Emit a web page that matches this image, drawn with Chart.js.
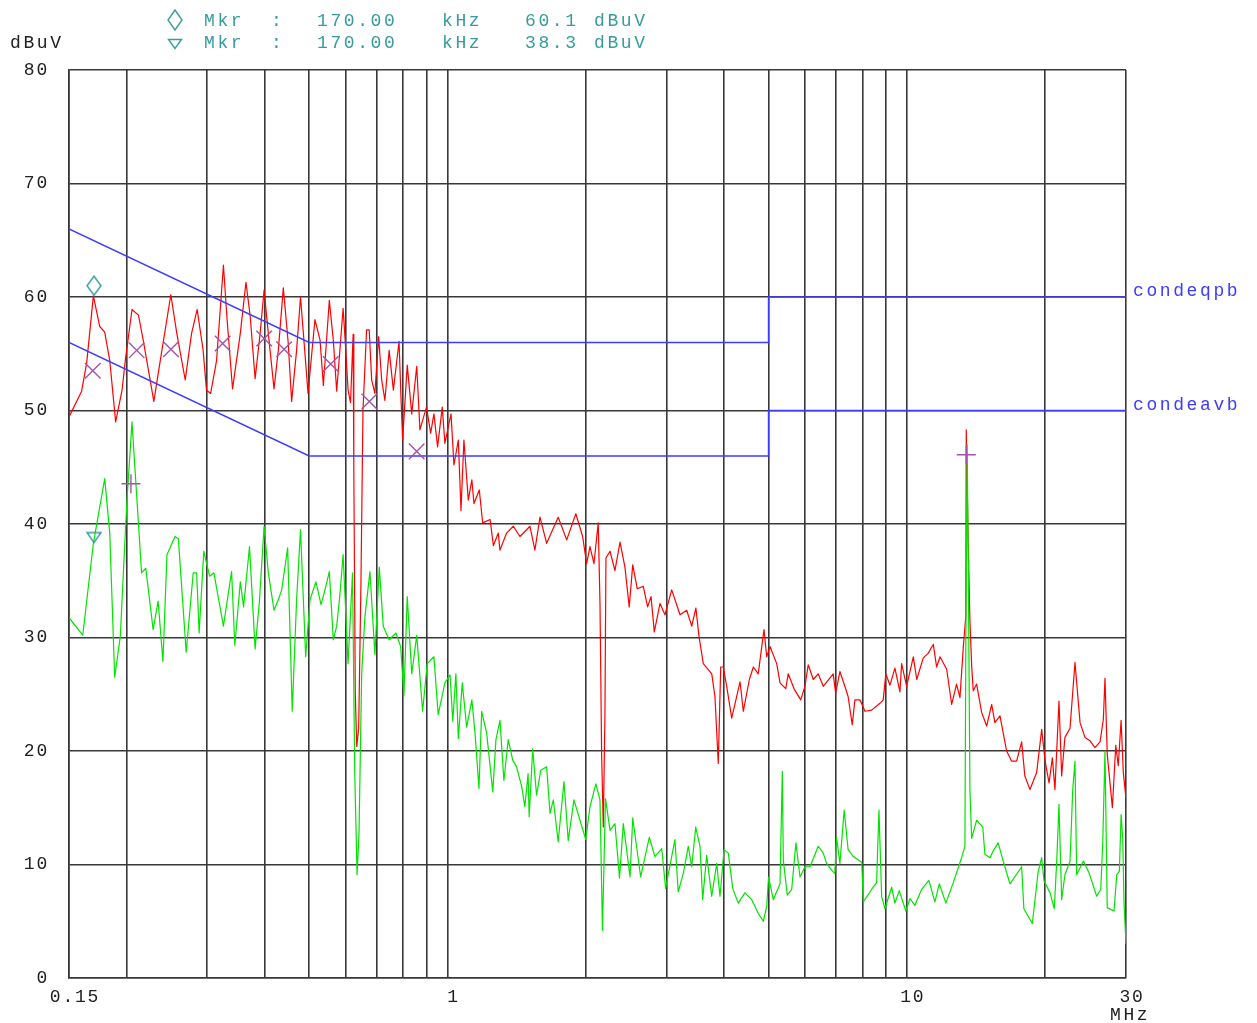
<!DOCTYPE html>
<html>
<head>
<meta charset="utf-8">
<script src="https://cdn.jsdelivr.net/npm/chart.js@4.4.1/dist/chart.umd.min.js"></script>
<style>
html, body { margin: 0; padding: 0; background: #fff; }
canvas { display: block; }
</style>
</head>
<body>
<canvas id="scan" width="1257" height="1023"></canvas>
<script>
// peak/QP scan (red), frequencies in MHz, levels in dBuV
const qpFreq = [
  0.1503,0.1598,0.1639,0.1695,0.175,0.1794,0.184,0.1895,0.1957,0.1989,
  0.2057,0.2125,0.2176,0.2295,0.237,0.2499,0.2575,0.2686,0.2773,0.2852,
  0.2938,0.2988,0.3051,0.3143,0.3253,0.3309,0.3405,0.354,0.3642,0.372,
  0.3813,0.391,0.3988,0.4074,0.4192,0.4283,0.4392,0.4502,0.4579,0.4694,
  0.4787,0.4889,0.4971,0.5146,0.528,0.5368,0.5531,0.5642,0.5739,0.5927,
  0.5988,0.6076,0.6151,0.6232,0.6253,0.630,0.6346,0.6408,0.6482,0.6547,
  0.6666,0.6756,0.6838,0.695,0.7081,0.7191,0.7308,0.7465,0.7625,0.7845,
  0.792,0.7987,0.8174,0.836,0.8572,0.871,0.9,0.9192,0.9343,0.9517,
  0.9742,0.9871,1.018,1.033,1.056,1.07,1.086,1.11,1.13,1.142,
  1.173,1.193,1.238,1.259,1.29,1.301,1.345,1.391,1.438,1.512,
  1.55,1.59,1.644,1.742,1.818,1.903,1.969,2.009,2.043,2.084,
  2.129,2.148,2.166,2.184,2.202,2.213,2.259,2.315,2.375,2.434,
  2.487,2.531,2.589,2.669,2.727,2.774,2.82,2.902,2.975,3.077,
  3.208,3.317,3.402,3.474,3.528,3.605,3.761,3.822,3.886,3.934,
  3.985,4.054,4.157,4.334,4.406,4.541,4.633,4.748,4.887,4.954,
  5.037,5.208,5.296,5.45,5.518,5.679,5.874,6.0,6.1,6.257,
  6.413,6.577,6.913,7.0,7.15,7.329,7.45,7.607,7.708,7.91,
  8.108,8.381,8.74,8.885,9.0,9.19,9.42,9.66,9.742,9.99,
  10.33,10.51,10.86,11.13,11.42,11.61,11.81,12.21,12.52,12.83,
  13.05,13.27,13.44,13.47,13.6,13.72,13.84,13.95,14.19,14.55,
  14.92,15.3,15.55,15.95,16.49,16.91,17.34,17.78,18.07,18.54,
  19.17,19.66,20.0,20.4,20.74,21.01,21.44,21.73,22.09,22.66,
  23.23,23.83,24.43,25.05,25.68,26.34,26.78,27.0,27.31,28.02,
  28.5,28.86,29.27,29.6,30
];
const qpLevel = [
  49.5,51.7,54.2,60.1,57.4,56.9,54.4,49.0,51.8,54.4,
  58.9,58.4,56.2,50.8,54.4,60.2,56.8,52.7,56.8,58.9,
  55.3,51.8,51.5,54.4,62.8,58.3,51.9,56.8,61.3,58.3,
  52.8,56.8,60.6,56.8,51.9,55.3,60.8,55.9,50.8,55.3,
  60.0,55.3,51.5,58.0,56.2,52.2,59.7,56.2,51.7,59.0,
  56.2,51.8,50.7,56.7,45.0,25.0,20.4,22.0,35.0,50.0,
  57.1,57.1,52.7,51.5,56.5,52.7,50.9,55.3,51.8,56.1,
  51.2,47.4,54.0,49.7,53.9,48.3,50.3,48.0,49.7,46.8,
  50.3,47.1,49.7,45.2,47.4,41.2,47.4,42.1,43.9,41.8,
  43.0,40.1,40.4,38.1,39.2,37.7,39.2,39.8,38.9,39.8,
  37.7,40.6,38.3,40.6,38.6,40.9,38.9,36.5,38.0,36.5,
  40.1,33.0,19.5,13.3,23.3,37.0,37.6,35.9,38.4,36.2,
  32.7,36.4,34.3,34.5,32.7,33.6,30.5,33.0,32.0,34.2,
  32.0,32.4,31.0,32.6,30.1,27.7,26.8,24.8,18.9,27.4,
  27.4,25.7,22.9,26.1,23.5,26.3,27.4,26.8,30.7,28.3,
  29.2,27.7,26.0,25.5,26.8,25.5,24.5,25.7,27.6,26.3,
  26.8,25.7,26.8,25.1,27.0,25.7,24.8,22.3,24.5,24.5,
  23.5,23.6,24.2,24.5,26.8,25.8,27.3,25.2,27.7,25.7,
  28.3,26.3,28.2,28.6,29.4,27.4,28.3,27.2,24.1,25.9,
  24.7,29.1,31.9,48.3,38.4,31.5,27.5,25.3,25.9,23.4,
  22.2,24.1,22.5,23.1,20.0,19.1,19.1,20.8,17.8,16.6,
  18.1,21.9,19.1,17.2,19.4,16.6,24.4,17.8,21.2,22.0,
  27.8,22.5,21.2,20.9,20.3,20.8,22.8,26.4,19.7,15.0,
  20.5,18.7,22.7,18.1,15.8
];

// average scan (green)
const avFreq = [
  0.1503,0.1607,0.1695,0.1794,0.184,0.1886,0.194,0.1989,0.2006,0.2057,
  0.2109,0.2158,0.2204,0.2287,0.2345,0.2402,0.2451,0.2552,0.2595,0.2699,
  0.2796,0.2844,0.288,0.2948,0.3035,0.3101,0.3168,0.3253,0.3389,0.3444,
  0.354,0.3599,0.3707,0.3813,0.3896,0.3988,0.4074,0.4192,0.4283,0.4357,
  0.4488,0.4593,0.4694,0.4787,0.4913,0.502,0.5171,0.5306,0.5412,0.5531,
  0.5642,0.5739,0.583,0.5927,0.6076,0.6213,0.6283,0.6356,0.6418,0.6505,
  0.661,0.678,0.695,0.7105,0.7248,0.7465,0.7725,0.7908,0.804,0.8174,
  0.836,0.8572,0.8828,0.9035,0.9343,0.9545,0.9871,1.013,1.027,1.043,
  1.056,1.077,1.101,1.13,1.148,1.171,1.187,1.217,1.255,1.275,
  1.301,1.327,1.356,1.387,1.414,1.45,1.474,1.498,1.506,1.533,
  1.563,1.596,1.644,1.672,1.70,1.742,1.793,1.832,1.885,1.943,
  2.0,2.043,2.104,2.148,2.175,2.208,2.259,2.315,2.369,2.414,
  2.497,2.531,2.634,2.75,2.829,2.927,2.985,3.127,3.179,3.261,
  3.343,3.402,3.471,3.546,3.594,3.667,3.761,3.856,3.92,4.0,
  4.087,4.178,4.295,4.442,4.596,4.748,4.871,4.954,5.0,5.12,
  5.296,5.357,5.384,5.492,5.615,5.735,5.854,6.0,6.155,6.413,
  6.577,6.688,6.858,6.97,7.03,7.15,7.305,7.45,7.52,7.645,
  7.977,8.041,8.381,8.593,8.696,8.814,8.959,9.268,9.42,9.626,
  9.95,10.16,10.41,10.77,11.17,11.51,11.77,12.16,12.62,13.16,
  13.38,13.44,13.53,13.6,13.72,13.84,14.19,14.63,14.79,15.17,
  15.42,15.81,16.21,16.77,17.78,17.98,18.76,19.32,19.66,19.88,
  20.5,20.94,21.2,21.44,21.73,22.09,22.66,22.97,23.23,23.43,
  24.23,24.96,25.9,26.43,26.7,27.0,27.31,28.25,28.64,29.02,
  29.27,29.52,29.7,29.91,30
];
const avLevel = [
  31.7,30.2,38.3,44.0,39.2,26.5,30.1,39.2,42.1,49.0,
  42.1,35.7,36.1,30.7,33.2,27.9,37.3,38.9,38.7,28.7,
  35.7,35.7,30.4,37.6,35.4,35.7,33.6,31.0,35.8,29.3,
  34.9,32.7,38.0,29.0,33.2,39.8,35.7,32.4,33.3,34.2,
  37.9,23.5,33.3,39.5,28.3,33.3,34.9,32.9,34.2,35.8,
  29.8,31.0,33.7,37.3,27.7,35.7,18.0,9.1,12.7,26.8,
  31.8,35.8,28.5,36.2,31.0,29.8,30.4,29.2,24.9,33.6,
  26.8,30.2,23.5,27.7,28.3,23.2,26.0,26.7,22.6,26.8,
  21.1,26.0,22.1,24.5,21.6,16.7,23.5,21.6,16.4,21.0,
  22.7,17.4,21.0,19.2,18.6,16.9,15.1,18.0,14.2,20.2,
  16.1,18.3,18.6,14.5,15.7,12.0,17.3,12.1,15.7,13.9,
  12.2,15.1,17.1,15.7,4.2,15.8,13.0,13.6,8.8,13.6,
  8.9,14.1,8.9,12.4,10.7,11.4,7.9,12.2,7.6,9.2,
  11.6,9.8,13.3,11.6,6.9,10.8,7.2,10.1,7.2,11.3,
  11.0,7.9,6.6,7.5,6.9,5.7,5.0,6.3,8.9,6.9,
  8.3,18.2,10.4,7.3,7.8,11.9,8.9,9.8,9.8,11.6,
  11.0,10.1,9.5,9.2,12.4,10.1,14.8,11.3,11.1,10.7,
  10.2,6.7,7.8,8.4,14.8,7.2,6.1,8.0,6.6,7.7,
  5.9,7.0,6.4,7.8,8.6,6.7,8.3,6.6,8.4,10.6,
  11.6,29.1,47.0,37.8,16.6,12.3,13.9,13.3,10.9,10.6,
  11.2,11.9,10.3,8.3,9.8,6.1,4.8,9.4,10.6,8.6,
  7.5,6.1,10.3,15.3,6.9,9.1,10.3,16.6,19.1,9.1,
  10.3,9.2,7.2,7.8,11.9,20.0,6.2,5.9,9.1,9.4,
  14.4,12.2,6.6,4.1,3.0
];

// limit lines
const limFreq = [0.15, 0.5, 5, 5, 30];
const qpLimLevel = [66, 56, 56, 60, 60];
const avLimLevel = [56, 46, 46, 50, 50];
const limNames = ['condeqpb', 'condeavb'];
const limLabelLevel = [60.5, 50.5];

// final measurement marks
const qpMarkFreq = [0.169, 0.2106, 0.25, 0.324, 0.399, 0.441, 0.557, 0.676, 0.857];
const qpMarkLevel = [53.5, 55.3, 55.4, 55.9, 56.35, 55.4, 54.1, 50.8, 46.4];
const avMarkFreq = [0.2046, 13.47];
const avMarkLevel = [43.55, 46.1];

// marker readouts
const mkrFreq = [0.17, 0.17];
const mkrSymbolLevel = [61.0, 38.8];
const mkrRows = [
  ['Mkr', ':', '170.00', 'kHz', '60.1', 'dBuV'],
  ['Mkr', ':', '170.00', 'kHz', '38.3', 'dBuV']
];

const xTicks = [0.15, 0.2, 0.3, 0.4, 0.5, 0.6, 0.7, 0.8, 0.9, 1, 2, 3, 4, 5, 6, 7, 8, 9, 10, 20, 30];
const xTickText = ['0.15', '', '', '', '', '', '', '', '', '1', '', '', '', '', '', '', '', '', '10', '', '30'];

const TEAL = '#389c9c';
const MARK = '#a352aa';
const BLUE = '#3c3cff';
const GRID = '#383838';
const INK = '#222';
const FONT = 'Liberation Mono';

function pts(xs, ys) {
  return xs.map((x, i) => ({ x: x, y: ys[i] }));
}

function shapeCanvas(w, h, path) {
  const c = document.createElement('canvas');
  c.width = w;
  c.height = h;
  const g = c.getContext('2d');
  g.strokeStyle = TEAL;
  g.lineWidth = 1.4;
  g.beginPath();
  path(g);
  g.stroke();
  return c;
}

function diamondPath(g, cx, cy, hw, hh) {
  g.moveTo(cx, cy - hh);
  g.lineTo(cx + hw, cy);
  g.lineTo(cx, cy + hh);
  g.lineTo(cx - hw, cy);
  g.closePath();
}

function triDownPath(g, cx, cy, hw, hh) {
  g.moveTo(cx - hw, cy - hh);
  g.lineTo(cx + hw, cy - hh);
  g.lineTo(cx, cy + hh);
  g.closePath();
}

const diamondImg = shapeCanvas(18, 24, g => diamondPath(g, 9, 12, 7, 9.5));
const triDownImg = shapeCanvas(18, 16, g => triDownPath(g, 9, 8, 7, 5));

const textPlugin = {
  id: 'scanText',
  beforeDraw(chart) {
    chart.ctx.letterSpacing = '1.8px';
  },
  afterDraw(chart) {
    const ctx = chart.ctx;
    const y = chart.scales.y;
    ctx.save();
    ctx.letterSpacing = '2.6px';
    ctx.font = '18px "' + FONT + '"';
    ctx.textBaseline = 'middle';
    ctx.textAlign = 'left';

    // marker readout rows
    const colX = [204, 271, 317, 442, 525, 594];
    const rowY = [21, 43];
    ctx.fillStyle = TEAL;
    mkrRows.forEach((row, r) => {
      row.forEach((t, k) => ctx.fillText(t, colX[k], rowY[r]));
    });
    ctx.strokeStyle = TEAL;
    ctx.lineWidth = 1.4;
    ctx.beginPath();
    diamondPath(ctx, 175, 20, 7, 10);
    ctx.stroke();
    ctx.beginPath();
    triDownPath(ctx, 175, 44, 6.5, 4.5);
    ctx.stroke();

    // axis unit texts
    ctx.fillStyle = INK;
    ctx.fillText('dBuV', 10, 43);
    ctx.fillText('MHz', 1110, 1015);

    // limit names
    ctx.fillStyle = BLUE;
    limNames.forEach((n, i) => ctx.fillText(n, 1133, y.getPixelForValue(limLabelLevel[i])));
    ctx.restore();
  }
};

new Chart(document.getElementById('scan'), {
  type: 'line',
  data: {
    datasets: [
      {
        data: pts([mkrFreq[0]], [mkrSymbolLevel[0]]),
        showLine: false, pointStyle: diamondImg, pointRadius: 5
      },
      {
        data: pts([mkrFreq[1]], [mkrSymbolLevel[1]]),
        showLine: false, pointStyle: triDownImg, pointRadius: 5
      },
      {
        data: pts(qpMarkFreq, qpMarkLevel),
        showLine: false, pointStyle: 'crossRot', pointRadius: 11,
        pointBorderColor: MARK, pointBorderWidth: 1.4
      },
      {
        data: pts(avMarkFreq, avMarkLevel),
        showLine: false, pointStyle: 'cross', pointRadius: 9.5,
        pointBorderColor: MARK, pointBorderWidth: 1.4
      },
      {
        data: pts(limFreq, qpLimLevel),
        borderColor: BLUE, borderWidth: 1.5, pointRadius: 0
      },
      {
        data: pts(limFreq, avLimLevel),
        borderColor: BLUE, borderWidth: 1.5, pointRadius: 0
      },
      {
        data: pts(avFreq, avLevel),
        borderColor: '#00e400', borderWidth: 1.2, pointRadius: 0, borderJoinStyle: 'round'
      },
      {
        data: pts(qpFreq, qpLevel),
        borderColor: '#ff0000', borderWidth: 1.2, pointRadius: 0, borderJoinStyle: 'round'
      }
    ]
  },
  options: {
    responsive: false,
    animation: false,
    events: [],
    layout: { padding: { left: 0, top: 70, right: 131, bottom: 0 } },
    elements: { line: { tension: 0 } },
    plugins: {
      legend: { display: false },
      tooltip: { enabled: false }
    },
    scales: {
      x: {
        type: 'logarithmic',
        min: 0.15,
        max: 30,
        afterBuildTicks: s => { s.ticks = xTicks.map(v => ({ value: v })); },
        afterFit: s => { s.height = 45; },
        ticks: {
          autoSkip: false,
          maxRotation: 0,
          padding: 8,
          labelOffset: 6,
          color: INK,
          font: { family: FONT, size: 18 },
          callback: v => xTickText[xTicks.indexOf(v)] || ''
        },
        grid: { color: GRID, lineWidth: 1.6, drawTicks: false },
        border: { color: GRID, width: 1.6 }
      },
      y: {
        min: 0,
        max: 80,
        afterFit: s => { s.width = 69; },
        ticks: {
          stepSize: 10,
          padding: 20,
          color: INK,
          font: { family: FONT, size: 18 }
        },
        grid: { color: GRID, lineWidth: 1.6, drawTicks: false },
        border: { color: GRID, width: 1.6 }
      }
    }
  },
  plugins: [textPlugin]
});
</script>
</body>
</html>
